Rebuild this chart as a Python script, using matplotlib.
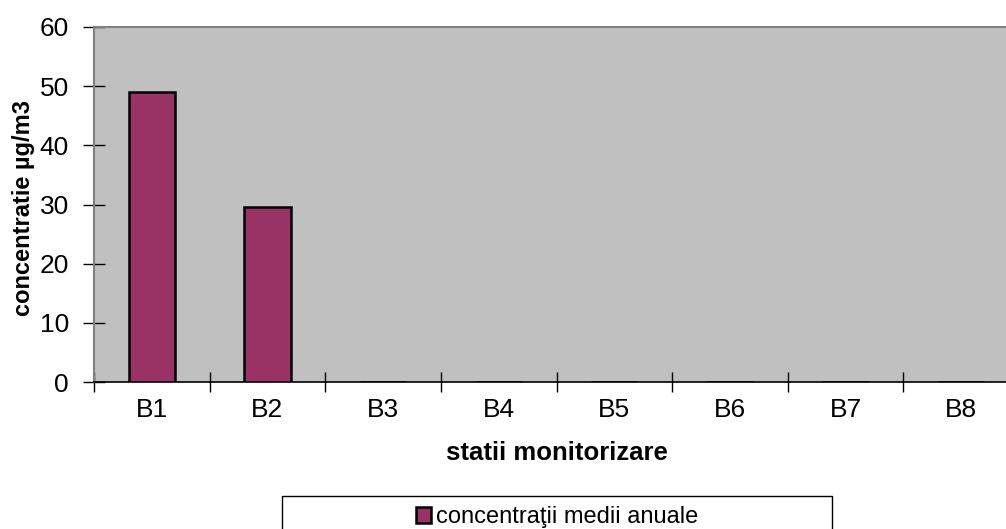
import numpy as np
import matplotlib
matplotlib.use('Agg')
import matplotlib.pyplot as plt
from matplotlib.patches import Rectangle

# data
stations = ['B1', 'B2', 'B3', 'B4', 'B5', 'B6', 'B7', 'B8']
values = [49, 29.6, 0, 0, 0, 0, 0, 0]
series_name = 'concentraţii medii anuale'
yticks = [0, 10, 20, 30, 40, 50, 60]

plt.rcParams['font.family'] = ['Liberation Sans', 'DejaVu Sans']

W, H = 1006, 529
fig = plt.figure(figsize=(W / 100, H / 100), dpi=100)
# plot area runs past the right edge of the image, as in the reference
left, right, top, bottom = 94, 1019, 27, 382
ax = fig.add_axes([left / W, 1 - bottom / H, (right - left) / W, (bottom - top) / H])
ax.set_facecolor('#C0C0C0')

x = np.arange(len(stations))
ax.bar(x, values, width=0.4, color='#993366', edgecolor='black', linewidth=1.8,
       label=series_name, zorder=3)

ax.set_xlim(-0.5, len(stations) - 0.5)
ax.set_ylim(0, 60)
ax.set_yticks(yticks)
ax.set_xticks(np.arange(len(stations) + 1) - 0.5, minor=True)
ax.set_xticks(x)
ax.set_xticklabels(stations, fontsize=19)
ax.tick_params(axis='x', which='major', length=0, pad=11.5)
ax.tick_params(axis='x', which='minor', direction='inout', length=15, width=1, color='black')
ax.tick_params(axis='y', direction='inout', length=16, width=1, labelsize=19, pad=10)

for s in ['top', 'right', 'left']:
    ax.spines[s].set_color('#808080')
    ax.spines[s].set_linewidth(1.5)
ax.spines['bottom'].set_color('black')
ax.spines['bottom'].set_linewidth(1.2)

ax.set_xlabel('statii monitorizare', fontsize=18.5, fontweight='bold')
ax.xaxis.label.set_va('center')
ax.xaxis.set_label_coords(0.5, (382 - 453) / 355)
ax.set_ylabel('concentratie µg/m3', fontsize=17, fontweight='bold')
ax.yaxis.label.set_va('center')
ax.yaxis.set_label_coords((24 - 94) / 925, (382 - 208) / 355)

# legend box, its lower edge cut off by the image border
lx0, lx1, ly0 = 282, 832, 496
fig.patches.append(Rectangle((lx0 / W, -0.05), (lx1 - lx0) / W, 0.05 + 1 - ly0 / H,
                             transform=fig.transFigure, facecolor='white',
                             edgecolor='black', linewidth=1))
fig.legend(loc='center', bbox_to_anchor=((lx0 + lx1) / 2 / W, 1 - 517 / H),
           frameon=False, fontsize=17, handlelength=0.65, handleheight=0.65,
           handletextpad=0.2, borderaxespad=0)

fig.savefig('out.png', dpi=100)
